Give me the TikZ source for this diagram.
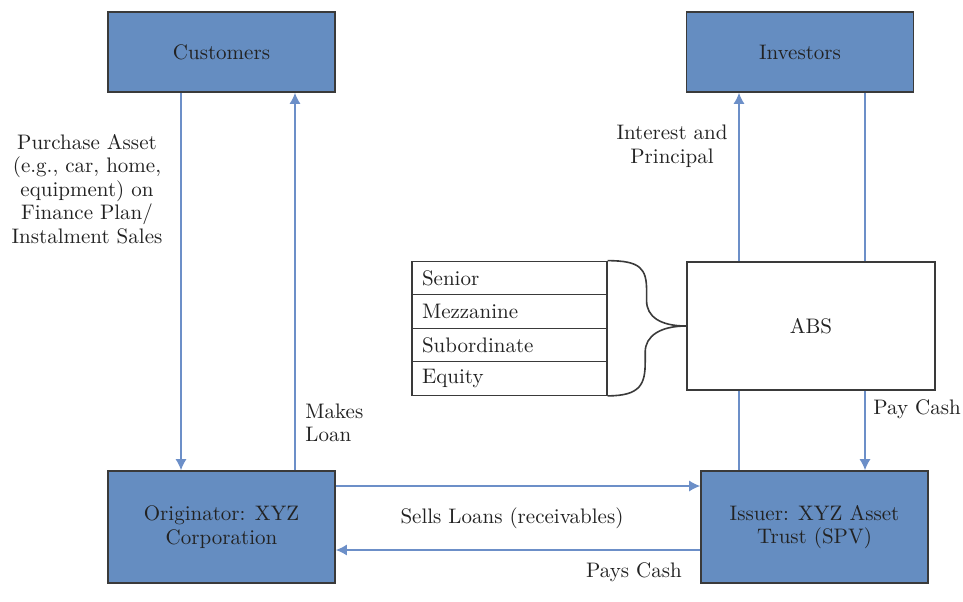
\documentclass[tikz,border=0pt]{standalone}
\usepackage{amsmath}
\usepackage{tikz}
\usetikzlibrary{arrows.meta}

\definecolor{boxblue}{HTML}{658DC1}
\definecolor{flowblue}{HTML}{6C8FC8}
\definecolor{edgegray}{HTML}{3A3A3A}
\definecolor{textgray}{HTML}{222222}

\begin{document}
\begin{tikzpicture}[x=0.5pt,y=-0.5pt,
		font=\fontsize{10.5}{11.75}\selectfont, text=textgray,
		party/.style={draw=edgegray, line width=0.8pt, fill=boxblue, align=center,
			minimum width=113.5pt},
		absbox/.style={draw=edgegray, line width=0.8pt, fill=white,
			minimum width=124pt, minimum height=64pt},
		tranche/.style={draw=edgegray, line width=0.6pt, inner xsep=5pt,
			text width=87.5pt, align=left, minimum height=16.75pt},
		flow/.style={draw=flowblue, line width=0.7pt, -{Latex[length=5.5pt,width=5.5pt]}},
		link/.style={draw=flowblue, line width=0.7pt},
		lbl/.style={align=center, inner sep=0pt}]
	\useasboundingbox (0,0) rectangle (963,601);
	
	% Parties
	\node[party, minimum height=40pt] (cust) at (221.5, 52) {Customers};
	\node[party, minimum height=40pt] (inv) at (800, 52) {Investors};
	\node[party, minimum height=56pt] (orig) at (221.5, 527) {Originator: XYZ\\Corporation};
	\node[party, minimum height=56pt] (issuer) at (814.5, 527) {Issuer: XYZ Asset\\Trust (SPV)};
	
	\node[absbox] (abs) at (811, 326) {ABS};
	
	% Tranches
	\node[tranche] (senior) at (509.5, 278) {Senior};
	\node[tranche] (mezz) at (509.5, 311.5) {Mezzanine};
	\node[tranche] (sub) at (509.5, 345) {Subordinate};
	\node[tranche] (equity) at (509.5, 378.5) {Equity};
	
	% Brace to ABS
	\draw[edgegray, line width=0.8pt]
		(senior.north east) .. controls +(33,0) and +(0,-22) .. ++(39,30) -- ++(0,10)
		.. controls +(0,16) and +(-26,0) .. (abs.west)
		.. controls +(-26,0) and +(0,-16) .. ++(-41,26) -- ++(0,10)
		.. controls +(0,22) and +(33,0) .. (equity.south east);
	
	% Customers and originator
	\draw[flow] ([xshift=-20.25pt]cust.south) -- ([xshift=-20.25pt]orig.north);
	\draw[flow] ([xshift=36.75pt]orig.north) -- ([xshift=36.75pt]cust.south);
	
	% Originator and issuer
	\draw[flow] ([yshift=20.5pt]orig.east) -- ([yshift=20.5pt]orig.east -| issuer.west);
	\draw[flow] ([yshift=-11.5pt]issuer.west) -- ([yshift=-11.5pt]issuer.west -| orig.east);
	
	% ABS, investors and issuer
	\coordinate (absL) at ([xshift=-36pt]abs.north);
	\coordinate (absR) at ([xshift=27pt]abs.north);
	\coordinate (absLb) at ([xshift=-36pt]abs.south);
	\coordinate (absRb) at ([xshift=27pt]abs.south);
	\draw[flow] (absL) -- (absL |- inv.south);
	\draw[link] (absR |- inv.south) -- (absR);
	\draw[link] (absLb |- issuer.north) -- (absLb);
	\draw[flow] (absRb) -- (absRb |- issuer.north);
	
	% Labels
	\node[lbl] (purchase) at (87, 189) {Purchase Asset\\(e.g., car, home,\\equipment) on\\Finance Plan/\\Instalment Sales};
	\node[lbl, anchor=west, align=left] (loan) at (305, 423) {Makes\\Loan};
	\node[lbl] (interest) at (672, 146) {Interest and\\Principal};
	\node[lbl, anchor=west] (paycash) at (873, 409) {Pay Cash};
	\node[lbl] (sells) at (512, 518) {Sells Loans (receivables)};
	\node[lbl] (payscash) at (634, 572) {Pays Cash};
\end{tikzpicture}
\end{document}
